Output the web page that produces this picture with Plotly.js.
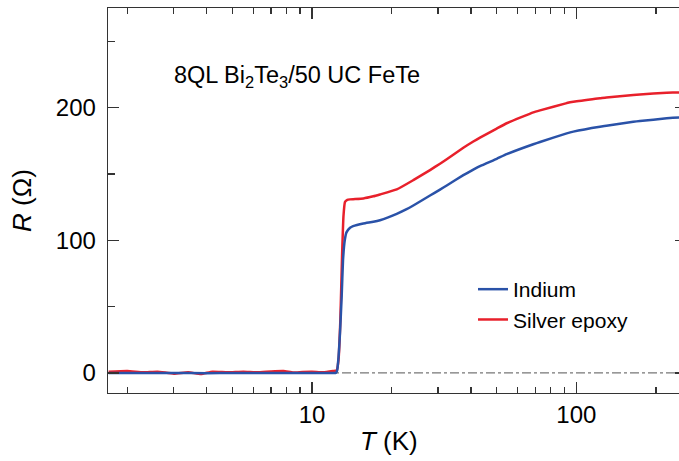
<!DOCTYPE html>
<html>
<head>
<meta charset="utf-8">
<script src="https://cdn.plot.ly/plotly-3.0.1.min.js"></script>
<style>
  html, body { margin: 0; padding: 0; overflow: hidden; background: #fff; width: 679px; height: 461px; }
  #chart { width: 687px; height: 461px; }
</style>
</head>
<body>
<div id="chart"></div>
<script>
// Temperature (K) and resistance (Ohm)
const silverT = [1.7, 2.0, 2.3, 2.6, 3.0, 3.4, 3.8, 4.2, 4.8, 5.5, 6.2, 7.0, 7.8, 8.5, 9.2, 10, 11, 12, 12.4, 12.6, 12.8, 13.0, 13.15, 13.33, 13.6, 13.93, 15.64, 17.06, 18.08, 20.92, 24.17, 27.96, 30.5, 32.34, 37.37, 40.76, 43.21, 49.98, 54.5, 68.76, 72.9, 91.98, 97.4, 122.9, 130, 164.3, 174, 219.8, 245, 260];
const silverR = [1.0, 1.5, 0.5, 1.0, -0.5, 0.5, -0.8, 1.0, 0.5, 1.0, 0.5, 1.2, 1.5, 0.3, 0.8, 1.0, 0.5, 1.5, 2, 10, 40, 90, 118, 129, 130.5, 130.9, 131.6, 133.2, 134.6, 138.4, 145.4, 153.0, 157.8, 161.2, 169.8, 174.5, 177.5, 184.3, 188.3, 196.5, 198.0, 203.5, 204.5, 207.1, 207.8, 209.6, 210, 211.3, 211.5, 211.7];

const indiumT = [1.7, 2.0, 3.0, 4.0, 5.0, 6.0, 8.0, 10, 12, 12.3, 12.45, 12.6, 12.76, 12.95, 13.1, 13.3, 13.5, 13.93, 14.3, 15.64, 17.06, 18.08, 20.92, 22.8, 24.17, 27.96, 30.5, 32.34, 37.37, 40.76, 43.21, 49.98, 54.5, 68.76, 72.9, 91.98, 97.4, 122.9, 130, 164.3, 174, 219.8, 245, 260];
const indiumR = [0, 0, 0, -0.2, 0, 0, 0, 0, 0, 0, 2, 12, 30, 58, 85, 100, 106, 109.5, 110.7, 112.7, 114, 115.2, 120.0, 123.5, 126.3, 133.8, 138.3, 141.4, 149.2, 153.4, 156, 161.5, 165, 172.5, 174.2, 180.7, 182, 185.7, 186.4, 189.4, 190, 192, 192.7, 193];

const seriesNames = ['Indium', 'Silver epoxy'];
const xMajorTicks = [10, 100];
const xMajorText = ['10', '100'];
const xMinorTicks = [2, 3, 4, 5, 6, 7, 8, 9, 20, 30, 40, 50, 60, 70, 80, 90, 200];
const yMajorTicks = [0, 100, 200];
const yMinorTicks = [50, 150, 250];

const FONT = 'Liberation Sans, Arial, Helvetica, sans-serif';
const AX = '#333333';

const traces = [
  { x: silverT, y: silverR, name: seriesNames[1], mode: 'lines', type: 'scatter',
    line: { color: '#e8202b', width: 2.5, shape: 'spline', smoothing: 0.4 } },
  { x: indiumT, y: indiumR, name: seriesNames[0], mode: 'lines', type: 'scatter',
    line: { color: '#2a52a8', width: 2.5, shape: 'spline', smoothing: 0.4 } }
];

const layout = {
  width: 687, height: 461,
  margin: { l: 108, r: 1, t: 8, b: 68 },
  paper_bgcolor: '#ffffff', plot_bgcolor: '#ffffff',
  font: { family: FONT, color: '#000' },
  showlegend: true,
  legend: { x: 0.6315, y: 0.322, xanchor: 'left', yanchor: 'top',
            traceorder: 'reversed', bgcolor: 'rgba(0,0,0,0)', tracegroupgap: 0,
            font: { family: FONT, size: 21, color: '#000' } },
  xaxis: {
    type: 'log', range: [0.2281, 2.415],
    tickmode: 'array', tickvals: xMajorTicks, ticktext: xMajorText,
    ticks: 'inside', ticklen: 11, tickwidth: 1.3, tickcolor: AX,
    minor: { tickmode: 'array', tickvals: xMinorTicks, ticks: 'inside', ticklen: 6, tickwidth: 1.3, tickcolor: AX, showgrid: false },
    showline: true, linecolor: AX, linewidth: 1.3, mirror: 'ticks',
    showgrid: false, zeroline: false,
    tickfont: { family: FONT, size: 24, color: '#000' }
  },
  yaxis: {
    range: [-15.1, 275.2],
    tickmode: 'array', tickvals: yMajorTicks,
    ticks: 'inside', ticklen: 11, tickwidth: 1.3, tickcolor: AX,
    minor: { tickmode: 'array', tickvals: yMinorTicks, ticks: 'inside', ticklen: 7, tickwidth: 1.3, tickcolor: AX, showgrid: false },
    showline: true, linecolor: AX, linewidth: 1.3, mirror: 'ticks',
    showgrid: false, zeroline: false,
    ticklabelstandoff: 6,
    tickfont: { family: FONT, size: 24, color: '#000' },
    title: { text: '<i>R</i> (Ω)', font: { family: FONT, size: 26, color: '#000' }, standoff: 16 }
  },
  shapes: [
    { type: 'line', xref: 'paper', x0: 0, x1: 1, yref: 'y', y0: 0, y1: 0, layer: 'below',
      line: { color: '#777777', width: 1.2, dash: '9px,3px,3px,3px' } }
  ],
  annotations: [
    { text: '8QL Bi<sub>2</sub>Te<sub>3</sub>/50 UC FeTe', xref: 'paper', yref: 'paper',
      x: 0.111, y: 0.8208, xanchor: 'left', yanchor: 'middle', showarrow: false,
      font: { family: FONT, size: 23.5, color: '#000' } },
    { text: '<i>T</i> (K)', xref: 'paper', yref: 'paper',
      x: 0.487, y: -0.1247, xanchor: 'center', yanchor: 'middle', showarrow: false,
      font: { family: FONT, size: 26, color: '#000' } }
  ]
};

Plotly.newPlot('chart', traces, layout, { displayModeBar: false, staticPlot: true });
</script>
</body>
</html>
